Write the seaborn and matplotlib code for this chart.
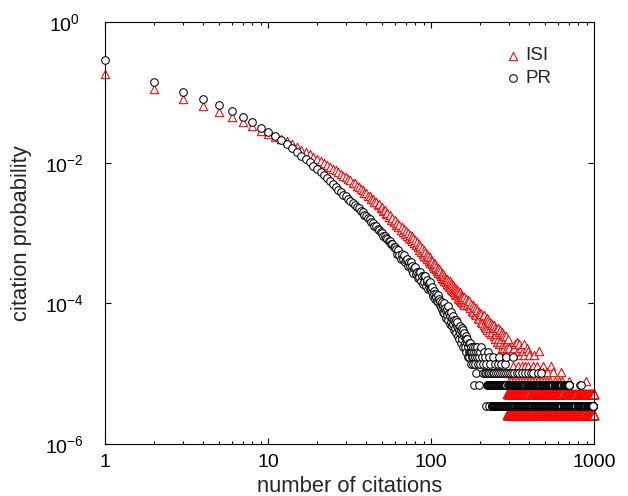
import numpy as np
import pandas as pd
import matplotlib
matplotlib.use("Agg")
import matplotlib.pyplot as plt
import seaborn as sns
from matplotlib.ticker import LogLocator, NullLocator, NullFormatter

# ---- data ----
# probability of one paper (one count) in each data set
pr_unit = 3.43e-6
isi_unit = 2.6e-6

# PR: citation probability for 1..99 citations
pr_k = list(range(1, 100))
pr_p = [0.29, 0.14, 0.102, 0.0798, 0.0650, 0.0540, 0.0443, 0.0375, 0.0312, 0.0277,
        0.0240, 0.0209, 0.0183, 0.0160, 0.0140, 0.0125, 0.0113, 0.0102, 0.0091, 0.0082,
        0.0073, 0.0066, 0.0060, 0.0054, 0.00492, 0.00455, 0.00414, 0.00388, 0.00352, 0.00333,
        0.00305, 0.00289, 0.00263, 0.00254, 0.00232, 0.00224, 0.00205, 0.00198, 0.00182, 0.00177,
        0.00162, 0.00157, 0.00143, 0.00140, 0.00127, 0.00124, 0.00113, 0.00112, 0.00102, 0.00101,
        0.00092, 0.00092, 0.00084, 0.00083, 0.00076, 0.00076, 0.00069, 0.00069, 0.00063, 0.00064,
        5.92e-4, 5.07e-4, 5.73e-4, 4.91e-4, 4.31e-4, 4.99e-4, 4.29e-4, 4.85e-4, 3.81e-4, 4.13e-4,
        4.27e-4, 3.36e-4, 3.81e-4, 3.37e-4, 3.91e-4, 3.01e-4, 3.42e-4, 2.69e-4, 3.14e-4, 3.27e-4,
        2.63e-4, 2.80e-4, 2.31e-4, 2.83e-4, 2.39e-4, 2.80e-4, 2.11e-4, 2.41e-4, 1.91e-4, 2.44e-4,
        2.03e-4, 2.43e-4, 1.75e-4, 2.00e-4, 2.14e-4, 1.58e-4, 1.94e-4, 1.61e-4, 1.98e-4]

# PR: number of papers for 100..179 citations
pr_mid_k = list(range(100, 180))
pr_mid_n = [46, 42, 49, 37, 43, 40, 34, 39, 36, 31, 38, 30, 34, 28, 31, 26, 30, 24, 28, 22,
            29, 21, 25, 23, 18, 24, 20, 27, 17, 21, 19, 15, 22, 16, 18, 14, 19, 15, 12, 17,
            16, 13, 17, 11, 14, 16, 10, 13, 12, 9, 14, 11, 12, 8, 13, 10, 9, 12, 7, 10,
            11, 8, 7, 10, 9, 6, 8, 9, 7, 5, 8, 6, 5, 8, 6, 4, 7, 6, 5, 6]

# PR tail: citation counts held by three or more papers
pr_tail_k = [180, 181, 182, 183, 185, 186, 187, 189, 190, 191, 192, 193, 195, 197, 199, 201,
             203, 205, 208, 209, 211, 213, 214, 218, 219, 223, 224, 226, 228, 231, 234, 239,
             241, 245, 247, 251, 256, 258, 262, 266, 270, 273, 281, 284, 289, 290, 298, 306,
             315, 317, 325, 336, 348, 361, 375, 392, 410, 425, 455, 474]
pr_tail_n = [5, 7, 4, 6, 5, 7, 4, 6, 3, 5, 7, 4, 6, 5, 6, 4,
             7, 5, 4, 3, 6, 3, 5, 4, 3, 3, 6, 5, 3, 4, 3, 3,
             5, 3, 4, 3, 4, 3, 5, 3, 4, 3, 3, 4, 3, 5, 3, 3,
             3, 5, 3, 3, 3, 3, 3, 3, 3, 3, 3, 3]
# PR: runs of citation counts (first, last) reached by exactly two / exactly one paper
pr_two_runs = [(184, 184), (196, 196), (222, 290), (298, 380), (390, 470), (482, 560),
               (575, 640), (655, 705), (820, 820), (838, 838)]
pr_one_runs = [(218, 218), (226, 226), (236, 300), (306, 330), (338, 420), (430, 520),
               (530, 640), (652, 780), (800, 900), (915, 990)]

# ISI: citation probability for 1..99 citations
isi_k = list(range(1, 100))
isi_p = [0.180, 0.110, 0.0805, 0.0640, 0.0520, 0.0443, 0.0384, 0.0328, 0.0280, 0.0254,
         0.0232, 0.0216, 0.0200, 0.0184, 0.0167, 0.0153, 0.0140, 0.0131, 0.0120, 0.0113,
         0.0105, 0.00995, 0.00925, 0.00880, 0.00815, 0.00785, 0.00725, 0.00700, 0.00650, 0.00632,
         0.00584, 0.00570, 0.00522, 0.00510, 0.00465, 0.00455, 0.00418, 0.00412, 0.00372, 0.00372,
         0.00336, 0.00338, 0.00302, 0.00306, 0.00273, 0.00279, 0.00247, 0.00255, 0.00225, 0.00233,
         0.00205, 0.00213, 0.00186, 0.00195, 0.00169, 0.00179, 0.00154, 0.00164, 0.00142, 0.00152,
         0.00131, 0.00141, 0.00121, 0.00130, 0.00112, 0.00122, 0.00105, 0.00115, 0.000975, 0.00107,
         0.000915, 0.00101, 0.000860, 0.000945, 0.000815, 0.000895, 0.000765, 0.000845, 0.000715, 0.000790,
         0.000670, 0.000735, 0.000625, 0.000690, 0.000580, 0.000645, 0.000545, 0.000605, 0.000510, 0.000570,
         0.000478, 0.000535, 0.000450, 0.000500, 0.000425, 0.000475, 0.000400, 0.000450, 0.000380]

# ISI: number of papers for 100..159, then every second count up to 298
isi_mid_k = list(range(100, 160)) + list(range(160, 300, 2))
isi_mid_n = [160, 141, 152, 129, 145, 121, 138, 117, 126, 112, 122, 104, 118, 99, 110, 95, 104, 88, 99, 85,
             94, 80, 89, 77, 86, 73, 84, 70, 81, 68, 79, 66, 76, 62, 72, 60, 70, 58, 66, 55,
             64, 53, 61, 50, 59, 51, 57, 46, 54, 45, 55, 43, 50, 42, 49, 40, 47, 39, 45, 37,
             48, 40, 44, 37, 43, 35, 41, 33, 38, 30, 37, 29, 34, 27, 33, 26, 31, 24, 29, 23,
             28, 21, 27, 20, 25, 19, 26, 18, 23, 17, 24, 16, 22, 15, 21, 17, 20, 14, 19, 15,
             18, 13, 19, 12, 17, 14, 16, 11, 17, 12, 15, 10, 16, 11, 14, 12, 15, 9, 14, 10,
             13, 9, 12, 10, 13, 8, 11, 9, 12, 8]

isi_tail_k = [299, 301, 305, 307, 311, 313, 317, 321, 324, 327, 333, 337, 339, 341, 344, 347,
              352, 353, 357, 360, 363, 366, 367, 372, 374, 378, 381, 383, 389, 391, 395, 398,
              399, 401, 415, 418, 420, 431, 433, 440, 447, 452, 459, 463, 470, 485, 488, 490,
              512, 515, 540, 541, 560, 575, 610, 630, 640, 705, 890]
isi_tail_n = [9, 3, 4, 7, 3, 8, 5, 9, 3, 10, 4, 11, 3, 8, 5, 10,
              3, 7, 9, 5, 4, 8, 3, 10, 7, 5, 4, 3, 9, 8, 5, 3,
              4, 7, 3, 4, 5, 7, 3, 4, 5, 3, 8, 4, 3, 5, 4, 3,
              3, 4, 3, 5, 4, 3, 3, 4, 3, 3, 3]
isi_two_runs = [(293, 400), (410, 520), (532, 640), (655, 780), (795, 900), (915, 1000)]
isi_one_runs = [(291, 420), (428, 560), (570, 700), (712, 860), (875, 1000)]

x_ticks = [1, 10, 100, 1000]
x_tick_labels = ['1', '10', '100', '1000']
y_ticks = [1, 1e-2, 1e-4, 1e-6]
y_tick_labels = [r'$10^{0}$', r'$10^{-2}$', r'$10^{-4}$', r'$10^{-6}$']


def expand(runs):
    ks = []
    for a, b in runs:
        ks += list(range(a, b + 1))
    return ks


# ---- build tables ----
pr_two_k = expand(pr_two_runs)
pr_one_k = expand(pr_one_runs)
isi_two_k = expand(isi_two_runs)
isi_one_k = expand(isi_one_runs)

pr = pd.DataFrame({
    'k': pr_k + pr_mid_k + pr_tail_k + pr_two_k + pr_one_k,
    'p': pr_p + [n * pr_unit for n in pr_mid_n + pr_tail_n]
         + [2 * pr_unit] * len(pr_two_k) + [pr_unit] * len(pr_one_k),
})
isi = pd.DataFrame({
    'k': isi_k + isi_mid_k + isi_tail_k + isi_two_k + isi_one_k,
    'p': isi_p + [n * isi_unit for n in isi_mid_n + isi_tail_n]
         + [2 * isi_unit] * len(isi_two_k) + [isi_unit] * len(isi_one_k),
})

sns.set_style("ticks")
plt.rcParams['font.family'] = ['Liberation Sans', 'DejaVu Sans']
plt.rcParams['mathtext.fontset'] = 'custom'
plt.rcParams['mathtext.rm'] = 'Liberation Sans'
plt.rcParams['mathtext.it'] = 'Liberation Sans:italic'
plt.rcParams['mathtext.bf'] = 'Liberation Sans:bold'
plt.rcParams['mathtext.default'] = 'regular'

fig = plt.figure(figsize=(6.28, 4.96), dpi=100)
ax = fig.add_axes([105 / 628, 1 - 444 / 496, 489 / 628, 422 / 496])

sns.scatterplot(data=isi, x='k', y='p', marker='^', s=36, color='white', edgecolor='red',
                linewidth=0.75, ax=ax, label='ISI', clip_on=False, zorder=2)
sns.scatterplot(data=pr, x='k', y='p', marker='o', s=30, color='white', edgecolor='black',
                linewidth=0.75, ax=ax, label='PR', clip_on=False, zorder=3)

ax.set_xscale('log')
ax.set_yscale('log')
ax.set_xlim(1, 1000)
ax.set_ylim(1e-6, 1)

ax.set_xticks(x_ticks, labels=x_tick_labels)
ax.xaxis.set_minor_locator(LogLocator(base=10, subs=range(2, 10)))
ax.xaxis.set_minor_formatter(NullFormatter())
ax.set_yticks(y_ticks, labels=y_tick_labels)
ax.yaxis.set_minor_locator(NullLocator())

ax.tick_params(which='both', direction='in', top=True, right=True, width=0.8, color='black',
               labelsize=14, labelcolor='black')
ax.tick_params(which='major', length=4.5)
ax.tick_params(which='minor', length=2.3)
ax.tick_params(axis='x', pad=7.5)
ax.tick_params(axis='y', pad=29)
for lab in ax.get_yticklabels():
    lab.set_horizontalalignment('center')

for sp in ax.spines.values():
    sp.set_visible(True)
    sp.set_color('black')
    sp.set_linewidth(0.8)

ax.set_xlabel('number of citations', fontsize=15.8)
ax.set_ylabel('citation probability', fontsize=15.8)
ax.xaxis.set_label_coords(0.5, -0.075)
ax.yaxis.set_label_coords(-0.15, 0.5)

ax.legend(loc='upper left', bbox_to_anchor=(0.819, 0.94), frameon=False, fontsize=13.5,
          handlelength=0.8, handletextpad=0.25, labelspacing=0.3, borderaxespad=0, borderpad=0)

fig.savefig('out.png', dpi=100)
